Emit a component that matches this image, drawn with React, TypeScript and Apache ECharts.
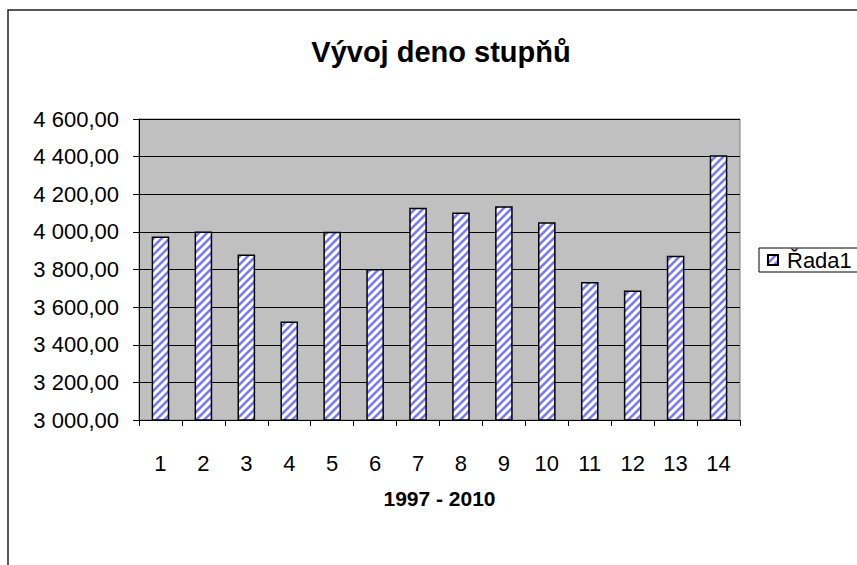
import React, { useEffect, useRef } from "react";
import * as echarts from "echarts";

const title = "Vývoj deno stupňů";
const xAxisName = "1997 - 2010";
const seriesName = "Řada1";
const categories = ["1", "2", "3", "4", "5", "6", "7", "8", "9", "10", "11", "12", "13", "14"];
const values = [3975, 4002, 3880, 3523, 4001, 3802, 4128, 4103, 4136, 4051, 3733, 3689, 3873, 4407];
const yMin = 3000;
const yMax = 4600;
const yStep = 200;

const FONT = "'Liberation Sans', Arial, sans-serif";

function formatCz(v: number): string {
  const fixed = v.toFixed(2);
  const [intPart, dec] = fixed.split(".");
  const withSpaces = intPart.replace(/\B(?=(\d{3})+(?!\d))/g, " ");
  return `${withSpaces},${dec}`;
}

function makeStripePattern(): HTMLCanvasElement {
  const c = document.createElement("canvas");
  const s = 8;
  c.width = s;
  c.height = s;
  const ctx = c.getContext("2d")!;
  ctx.fillStyle = "#ffffff";
  ctx.fillRect(0, 0, s, s);
  ctx.strokeStyle = "#7878ff";
  ctx.lineWidth = 2.6;
  ctx.beginPath();
  ctx.moveTo(-s, s * 2);
  ctx.lineTo(s * 2, -s);
  ctx.moveTo(-s, s);
  ctx.lineTo(s, -s);
  ctx.moveTo(0, s * 2);
  ctx.lineTo(s * 2, 0);
  ctx.stroke();
  return c;
}

export default function App() {
  const ref = useRef<HTMLDivElement>(null);

  useEffect(() => {
    if (!ref.current) return;
    const chart = echarts.init(ref.current, undefined, { renderer: "svg" });
    const pattern = { image: makeStripePattern(), repeat: "repeat" };

    chart.setOption({
      animation: false,
      backgroundColor: "#ffffff",
      title: {
        text: title,
        left: 436,
        top: 32,
        textAlign: "center",
        textStyle: { fontFamily: FONT, fontSize: 29, fontWeight: "bold", color: "#000" },
      },
      graphic: [
        {
          type: "rect",
          shape: { x: 8, y: 10, width: 1000, height: 1000 },
          style: { fill: "none", stroke: "#222", lineWidth: 1.5 },
          silent: true,
        },
      ],
      legend: {
        left: 759,
        top: 248,
        orient: "vertical",
        data: [seriesName],
        icon: "rect",
        itemWidth: 10,
        itemHeight: 10,
        itemGap: 5,
        padding: [1, 40, 1, 8],
        borderColor: "#000",
        borderWidth: 1,
        backgroundColor: "#fff",
        textStyle: { fontFamily: FONT, fontSize: 22, color: "#000", padding: [0, 0, 0, 4] },
      },
      grid: {
        left: 139,
        right: 117,
        top: 119,
        bottom: 145,
        show: true,
        backgroundColor: "#c0c0c0",
        borderColor: "#808080",
        borderWidth: 1,
        containLabel: false,
      },
      xAxis: {
        type: "category",
        data: categories,
        name: xAxisName,
        nameLocation: "middle",
        nameGap: 68,
        nameTextStyle: { fontFamily: FONT, fontSize: 21, fontWeight: "bold", color: "#000" },
        axisLine: { show: true, lineStyle: { color: "#000", width: 1 } },
        axisTick: { show: true, length: 6, lineStyle: { color: "#000" } },
        axisLabel: { fontFamily: FONT, fontSize: 22, color: "#000", margin: 32, interval: 0 },
        splitLine: { show: false },
      },
      yAxis: {
        type: "value",
        min: yMin,
        max: yMax,
        interval: yStep,
        axisLine: { show: true, lineStyle: { color: "#000", width: 1 } },
        axisTick: { show: true, length: 6, lineStyle: { color: "#000" } },
        axisLabel: {
          fontFamily: FONT,
          fontSize: 22,
          color: "#000",
          margin: 20,
          formatter: (v: number) => formatCz(v),
        },
        splitLine: { show: true, lineStyle: { color: "#000", width: 1 } },
      },
      series: [
        {
          name: seriesName,
          type: "bar",
          data: values,
          barWidth: "41%",
          itemStyle: { color: pattern, borderColor: "#000", borderWidth: 1.5 },
        },
      ],
    });

    return () => chart.dispose();
  }, []);

  return (
    <div
      ref={ref}
      style={{ position: "fixed", left: 0, top: 0, width: 857, height: 565 }}
    />
  );
}
